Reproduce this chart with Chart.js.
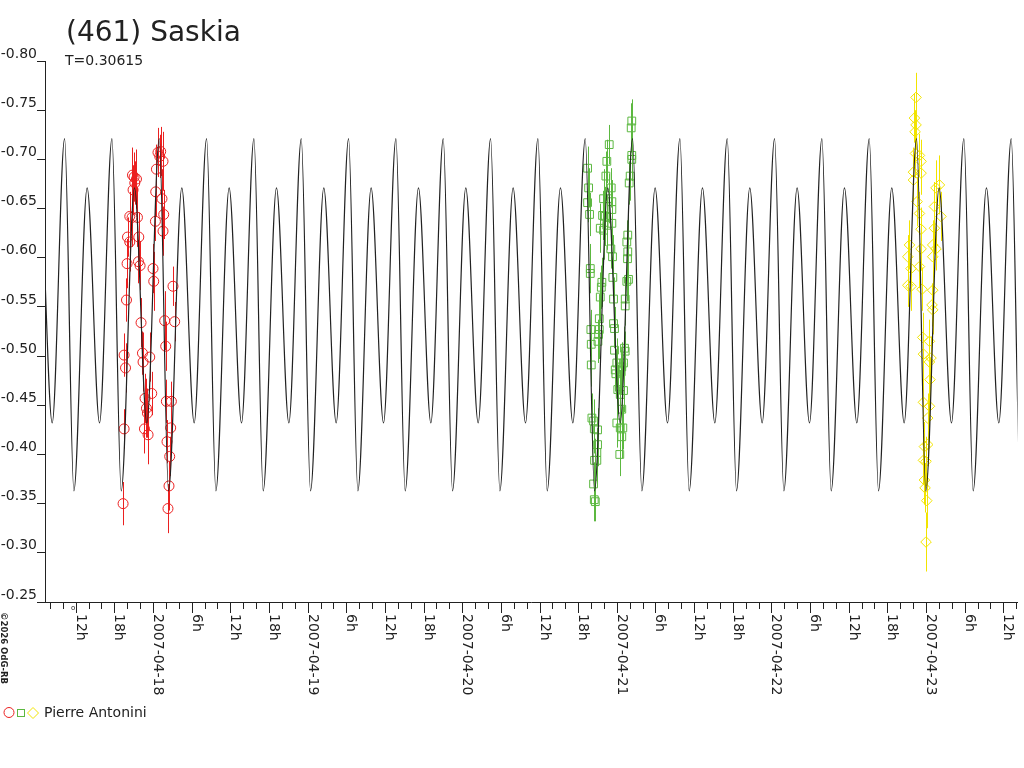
<!DOCTYPE html>
<html>
<head>
<meta charset="utf-8">
<title>(461) Saskia</title>
<script src="https://cdn.jsdelivr.net/npm/chart.js@4.4.1/dist/chart.umd.min.js"></script>
<style>
  html, body { margin: 0; padding: 0; background: #fff; }
  canvas { display: block; }
</style>
</head>
<body>
<canvas class="js-chart" width="1024" height="768"></canvas>
<script>
const ctx = document.querySelector(".js-chart").getContext("2d");

// x in hours from 2007-04-18 00:00, y in mag (axis reversed)
const X_MIN = -16.77;
const X_MAX = 134.2;
const PERIOD_DAYS = 0.30615;
const TEXT_COLOR = "#222";
const FONT = '"DejaVu Sans", "Liberation Sans", sans-serif';

const yTicks = [-0.8, -0.75, -0.7, -0.65, -0.6, -0.55, -0.5, -0.45, -0.4, -0.35, -0.3, -0.25];
const xLabelHours = [-12, -6, 0, 6, 12, 18, 24, 30, 36, 42, 48, 54, 60, 66, 72, 78, 84, 90, 96, 102, 108, 114, 120, 126, 132];
const xLabels = [
  "12h", "18h", "2007-04-18", "6h", "12h", "18h", "2007-04-19", "6h", "12h", "18h",
  "2007-04-20", "6h", "12h", "18h", "2007-04-21", "6h", "12h", "18h", "2007-04-22",
  "6h", "12h", "18h", "2007-04-23", "6h", "12h",
];

// model curve: one cycle, phase counted from the main maximum
const modelPhase = [0, 0.196, 0.476, 0.738];
const modelMag = [-0.721, -0.363, -0.671, -0.432];
const modelEpoch = 89.14; // hours, one of the main maxima

// ===== Pierre Antonini, night 1 (circles) =====
const redTime = [
  -4.65, -4.49, -4.49, -4.27, -4.12, -4.03, -3.96, -3.61, -3.61, -3.25,
  -3.1, -3.19, -2.94, -2.57, -2.83, -2.42, -2.21, -2.26, -2.01, -1.86,
  -1.64, -1.55, -1.24, -1.02, -0.87, -1.33, -0.77, -0.51, -0.2, 0.0,
  0.11, 0.37, 0.42, 0.53, 0.77, 1.19, 1.55, 1.04, 1.39, 1.66,
  1.55, 1.81, 1.97, 2.07, 2.85, 2.74, 2.17, 2.59, 2.48, 2.32,
  3.1, 3.36,
];
const redMag = [
  -0.35, -0.426, -0.501, -0.488, -0.557, -0.594, -0.621, -0.616, -0.642, -0.641,
  -0.669, -0.684, -0.682, -0.68, -0.676, -0.641, -0.621, -0.596, -0.592, -0.534,
  -0.503, -0.494, -0.457, -0.447, -0.442, -0.426, -0.42, -0.499, -0.462, -0.589,
  -0.576, -0.637, -0.667, -0.69, -0.707, -0.708, -0.698, -0.703, -0.66, -0.644,
  -0.627, -0.536, -0.51, -0.454, -0.454, -0.427, -0.413, -0.398, -0.368, -0.345,
  -0.571, -0.535,
];
const redErr = [
  0.022, 0.02, 0.022, 0.025, 0.022, 0.025, 0.02, 0.03, 0.025, 0.03,
  0.025, 0.028, 0.025, 0.03, 0.022, 0.03, 0.025, 0.022, 0.025, 0.025,
  0.022, 0.03, 0.025, 0.03, 0.025, 0.025, 0.03, 0.025, 0.022, 0.025,
  0.03, 0.02, 0.025, 0.025, 0.025, 0.025, 0.03, 0.022, 0.03, 0.025,
  0.025, 0.03, 0.025, 0.022, 0.02, 0.02, 0.022, 0.02, 0.025, 0.025,
  0.02, 0.02,
];

// ===== night 2 (squares) =====
const greenTime = [
  67.46, 67.62, 67.46, 67.77, 67.88, 67.88, 70.82, 70.45, 70.3, 71.13,
  69.94, 70.71, 71.23, 69.79, 70.2, 71.23, 69.43, 69.94, 70.45, 71.23,
  71.07, 71.33, 71.38, 69.68, 69.59, 69.43, 71.49, 74.32, 74.23, 74.32,
  74.32, 74.07, 73.92, 73.7, 73.55, 73.7, 73.66, 73.81, 73.55, 73.3,
  73.3, 69.28, 67.97, 69.28, 69.17, 69.07, 68.03, 71.49, 71.64, 68.03,
  71.64, 73.19, 73.3, 72.0, 71.75, 71.85, 73.04, 72.77, 72.68, 72.15,
  73.04, 72.53, 72.77, 72.0, 68.13, 68.39, 68.5, 69.01, 72.93, 72.53,
  72.77, 69.01, 68.9, 68.9, 68.54, 72.46, 68.39, 68.5, 68.66,
];
const greenMag = [
  -0.691, -0.671, -0.656, -0.644, -0.589, -0.584, -0.715, -0.698, -0.683, -0.671,
  -0.66, -0.66, -0.657, -0.643, -0.642, -0.649, -0.63, -0.628, -0.633, -0.635,
  -0.609, -0.601, -0.58, -0.575, -0.57, -0.56, -0.558, -0.739, -0.732, -0.704,
  -0.7, -0.683, -0.676, -0.623, -0.616, -0.606, -0.599, -0.578, -0.576, -0.558,
  -0.551, -0.538, -0.527, -0.527, -0.522, -0.515, -0.512, -0.533, -0.528, -0.491,
  -0.506, -0.508, -0.505, -0.493, -0.486, -0.482, -0.493, -0.489, -0.484, -0.466,
  -0.465, -0.461, -0.446, -0.432, -0.437, -0.434, -0.426, -0.425, -0.427, -0.427,
  -0.418, -0.41, -0.402, -0.394, -0.394, -0.4, -0.37, -0.354, -0.352,
];
const greenErr = [
  0.022, 0.02, 0.02, 0.022, 0.025, 0.02, 0.02, 0.022, 0.025, 0.02,
  0.03, 0.025, 0.022, 0.025, 0.03, 0.02, 0.025, 0.03, 0.025, 0.022,
  0.02, 0.022, 0.02, 0.025, 0.022, 0.025, 0.022, 0.022, 0.025, 0.025,
  0.022, 0.025, 0.022, 0.025, 0.022, 0.022, 0.025, 0.022, 0.02, 0.022,
  0.02, 0.025, 0.02, 0.022, 0.025, 0.022, 0.02, 0.025, 0.022, 0.022,
  0.025, 0.022, 0.02, 0.025, 0.022, 0.025, 0.022, 0.025, 0.022, 0.025,
  0.022, 0.025, 0.022, 0.025, 0.025, 0.022, 0.025, 0.022, 0.022, 0.025,
  0.022, 0.022, 0.025, 0.022, 0.022, 0.022, 0.022, 0.022, 0.02,
];

// ===== night 3 (diamonds) =====
const yellowTime = [
  118.45, 118.2, 118.45, 118.3, 118.36, 118.98, 119.23, 118.05, 119.23, 118.05,
  118.61, 118.98, 119.23, 117.43, 117.17, 117.68, 119.23, 118.98, 117.17, 117.68,
  119.38, 121.04, 120.93, 121.04, 121.55, 122.08, 121.3, 122.32, 121.3, 121.04,
  121.55, 121.04, 119.49, 120.53, 119.6, 120.77, 120.53, 120.62, 119.6, 120.53,
  120.26, 119.75, 120.26, 119.6, 120.0, 119.75, 119.85, 120.11, 120.0,
];
const yellowMag = [
  -0.763, -0.742, -0.735, -0.728, -0.706, -0.704, -0.698, -0.687, -0.686, -0.679,
  -0.657, -0.645, -0.629, -0.613, -0.601, -0.589, -0.609, -0.591, -0.572, -0.571,
  -0.568, -0.567, -0.552, -0.547, -0.671, -0.674, -0.652, -0.642, -0.63, -0.613,
  -0.609, -0.601, -0.519, -0.515, -0.502, -0.498, -0.494, -0.476, -0.453, -0.449,
  -0.437, -0.408, -0.41, -0.394, -0.393, -0.374, -0.366, -0.353, -0.311,
];
const yellowErr = [
  0.025, 0.025, 0.025, 0.022, 0.025, 0.022, 0.022, 0.025, 0.022, 0.022,
  0.025, 0.022, 0.022, 0.025, 0.022, 0.025, 0.022, 0.022, 0.022, 0.025,
  0.022, 0.025, 0.022, 0.025, 0.028, 0.03, 0.025, 0.025, 0.025, 0.025,
  0.022, 0.022, 0.025, 0.022, 0.025, 0.022, 0.025, 0.022, 0.025, 0.022,
  0.025, 0.025, 0.022, 0.025, 0.025, 0.025, 0.025, 0.028, 0.03,
];

const RED = "rgb(235, 32, 32)";
const GREEN = "rgb(92, 184, 64)";
const YELLOW = "rgb(242, 228, 0)";

function toPoints(times, mags) {
  return times.map((t, i) => ({ x: t, y: mags[i] }));
}

// repeat the cycle over the whole time range
function buildModel() {
  const periodH = PERIOD_DAYS * 24;
  const kStart = Math.floor((X_MIN - modelEpoch) / periodH) - 1;
  const kEnd = Math.ceil((X_MAX - modelEpoch) / periodH) + 1;
  const pts = [];
  for (let k = kStart; k <= kEnd; k++) {
    modelPhase.forEach((ph, i) => {
      pts.push({ x: modelEpoch + (k + ph) * periodH, y: modelMag[i] });
    });
  }
  return pts;
}

const errorBars = {
  id: "errorBars",
  beforeDatasetsDraw(chart) {
    const { ctx, chartArea, scales: { x, y } } = chart;
    ctx.save();
    ctx.beginPath();
    ctx.rect(chartArea.left, chartArea.top, chartArea.right - chartArea.left, chartArea.bottom - chartArea.top);
    ctx.clip();
    ctx.lineWidth = 1;
    chart.data.datasets.forEach((ds) => {
      if (!ds.errors) return;
      ctx.strokeStyle = ds.borderColor;
      ds.data.forEach((p, i) => {
        const px = Math.round(x.getPixelForValue(p.x)) + 0.5;
        ctx.beginPath();
        ctx.moveTo(px, y.getPixelForValue(p.y - ds.errors[i]));
        ctx.lineTo(px, y.getPixelForValue(p.y + ds.errors[i]));
        ctx.stroke();
      });
    });
    ctx.restore();
  },
};

// x ticks and rotated labels (read top to bottom like the original)
const timeAxis = {
  id: "timeAxis",
  afterDraw(chart) {
    const { ctx, chartArea, scales: { x } } = chart;
    const base = chartArea.bottom;
    ctx.save();
    ctx.strokeStyle = TEXT_COLOR;
    ctx.lineWidth = 1;
    x.ticks.forEach((t) => {
      const px = Math.round(x.getPixelForValue(t.value)) + 0.5;
      const len = xLabelHours.includes(t.value) ? 11 : 7;
      ctx.beginPath();
      ctx.moveTo(px, base);
      ctx.lineTo(px, base + len);
      ctx.stroke();
    });
    ctx.fillStyle = TEXT_COLOR;
    ctx.font = "14px " + FONT;
    ctx.textAlign = "left";
    ctx.textBaseline = "alphabetic";
    xLabelHours.forEach((h, i) => {
      const px = Math.round(x.getPixelForValue(h));
      ctx.save();
      ctx.translate(px + 1, base + 12);
      ctx.rotate(Math.PI / 2);
      ctx.fillText(xLabels[i], 0, 0);
      ctx.restore();
    });
    // little marker just under the axis
    ctx.font = "7px " + FONT;
    ctx.fillText("o", 71, 610);
    ctx.restore();
  },
};

const decorations = {
  id: "decorations",
  afterDraw(chart) {
    const { ctx } = chart;
    ctx.save();
    ctx.fillStyle = TEXT_COLOR;
    ctx.textAlign = "left";
    ctx.textBaseline = "alphabetic";
    ctx.font = "28px " + FONT;
    ctx.fillText("(461) Saskia", 66, 41);
    ctx.font = "14px " + FONT;
    ctx.fillText("T=0.30615", 65, 65);

    // legend
    ctx.lineWidth = 1;
    ctx.strokeStyle = RED;
    ctx.beginPath();
    ctx.arc(9, 712.5, 5, 0, Math.PI * 2);
    ctx.stroke();
    ctx.strokeStyle = GREEN;
    ctx.strokeRect(17.5, 709.5, 7, 7);
    ctx.strokeStyle = YELLOW;
    ctx.beginPath();
    ctx.moveTo(33, 707.5);
    ctx.lineTo(38.5, 713);
    ctx.lineTo(33, 718.5);
    ctx.lineTo(27.5, 713);
    ctx.closePath();
    ctx.stroke();
    ctx.fillStyle = TEXT_COLOR;
    ctx.font = "14px " + FONT;
    ctx.fillText("Pierre Antonini", 44, 717);

    // credit
    ctx.font = "bold 8.5px " + FONT;
    ctx.translate(1, 612);
    ctx.rotate(Math.PI / 2);
    ctx.fillText("\u00a92026 OdG-RB", 0, 0);
    ctx.restore();
  },
};

function drawChart() {
  new Chart(ctx, {
    type: "scatter",
    data: {
      datasets: [
        {
          label: "model",
          data: buildModel(),
          showLine: true,
          borderColor: "#222",
          borderWidth: 1.2,
          pointRadius: 0,
          cubicInterpolationMode: "monotone",
          fill: false,
        },
        {
          label: "Pierre Antonini",
          data: toPoints(redTime, redMag),
          errors: redErr,
          pointStyle: "circle",
          pointRadius: 5,
          borderColor: RED,
          backgroundColor: "transparent",
          pointBorderWidth: 1,
        },
        {
          label: "Pierre Antonini 2",
          data: toPoints(greenTime, greenMag),
          errors: greenErr,
          pointStyle: "rect",
          pointRadius: 5.5,
          borderColor: GREEN,
          backgroundColor: "transparent",
          pointBorderWidth: 1,
        },
        {
          label: "Pierre Antonini 3",
          data: toPoints(yellowTime, yellowMag),
          errors: yellowErr,
          pointStyle: "rectRot",
          pointRadius: 5.3,
          borderColor: YELLOW,
          backgroundColor: "transparent",
          pointBorderWidth: 1,
        },
      ],
    },
    options: {
      responsive: false,
      animation: false,
      events: [],
      layout: { padding: { top: 61, right: 4, bottom: 0, left: 0 } },
      plugins: {
        legend: { display: false },
        tooltip: { enabled: false },
        title: { display: false },
      },
      scales: {
        x: {
          type: "linear",
          min: X_MIN,
          max: X_MAX,
          grid: { drawOnChartArea: false, drawTicks: false },
          border: { color: TEXT_COLOR, width: 1 },
          ticks: { display: false },
          afterBuildTicks(scale) {
            const ticks = [];
            for (let v = -16; v <= X_MAX; v += 2) ticks.push({ value: v });
            scale.ticks = ticks;
          },
          afterFit(scale) {
            scale.height = 166;
          },
        },
        y: {
          type: "linear",
          min: -0.8,
          max: -0.25,
          reverse: true,
          grid: {
            drawOnChartArea: false,
            drawTicks: true,
            tickLength: 8,
            tickColor: TEXT_COLOR,
            tickWidth: 1,
          },
          border: { color: TEXT_COLOR, width: 1 },
          ticks: {
            padding: 0,
            labelOffset: -7,
            color: TEXT_COLOR,
            font: { family: FONT, size: 14 },
            callback(value) {
              return value.toFixed(2);
            },
          },
          afterBuildTicks(scale) {
            scale.ticks = yTicks.map((v) => ({ value: v }));
          },
          afterFit(scale) {
            scale.width = 45;
          },
        },
      },
    },
    plugins: [errorBars, timeAxis, decorations],
  });
}

drawChart();
</script>
</body>
</html>
